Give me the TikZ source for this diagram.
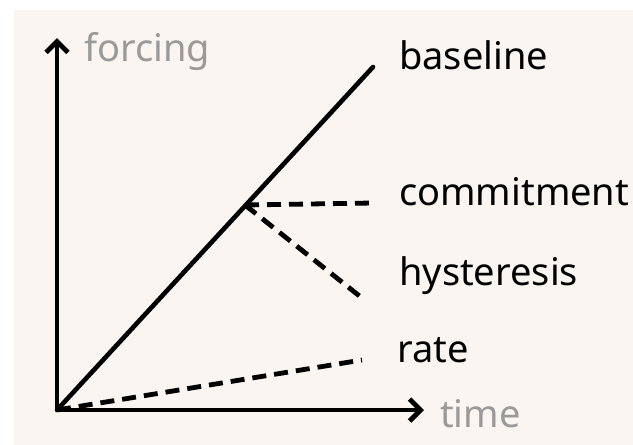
\documentclass[tikz,border=0pt]{standalone}
\usepackage{fontspec}
\setmainfont{Noto Sans}
\usetikzlibrary{arrows.meta}
\definecolor{bgbeige}{HTML}{FAF5F1}
\definecolor{axisgray}{HTML}{9A9A9A}
\begin{document}
\begin{tikzpicture}[x=1pt,y=-1pt,
  axis/.style={line width=4.8pt,-{Straight Barb[length=11pt,width=22pt,line width=4.8pt]}},
  solidline/.style={line width=4.6pt,line cap=round},
  dashline/.style={line width=4.8pt,dash pattern=on 14pt off 8pt},
  lbl/.style={font=\fontsize{38}{38}\selectfont,anchor=west,inner sep=0pt,text=black},
  axlbl/.style={lbl,text=axisgray}]
\useasboundingbox (0,0) rectangle (633,445);
\fill[white] (0,0) rectangle (633,445);
\fill[bgbeige] (14,10) rectangle (633,445);
\coordinate (o) at (57,410);
\coordinate (ytip) at (57,38);
\coordinate (xtip) at (424,410);
\coordinate (btop) at (373,67);
\coordinate (k) at (245,205);
\coordinate (cend) at (373,203);
\coordinate (hend) at (362,298);
\coordinate (rend) at (362,360);
\draw[axis] (o) -- (ytip);
\draw[axis] (o) -- (xtip);
\draw[solidline] (o) -- (btop);
\draw[dashline] (k) -- (cend);
\draw[dashline] (k) -- (hend);
\draw[dashline] (o) -- (rend);
\node[axlbl] (forcing) at (84,52) {forcing};
\node[axlbl] (time) at (440,414) {time};
\node[lbl] (baseline) at (399,55) {baseline};
\node[lbl] (commitment) at (399,192) {commitment};
\node[lbl] (hysteresis) at (399,276) {hysteresis};
\node[lbl] (rate) at (397,350) {rate};
\end{tikzpicture}
\end{document}
